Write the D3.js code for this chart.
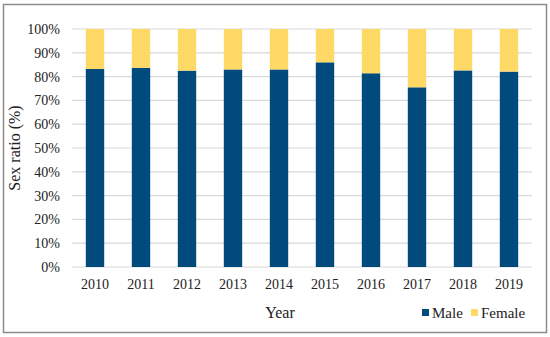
<!DOCTYPE html>
<html>
<head>
<meta charset="utf-8">
<script src="https://cdn.jsdelivr.net/npm/d3@7"></script>
<style>
  body { margin: 0; background: #fff; }
  text { font-family: "Liberation Serif", "Times New Roman", serif; fill: #222; }
</style>
</head>
<body>
<svg id="chart" width="550" height="337"></svg>
<script>
let years = ["2010", "2011", "2012", "2013", "2014", "2015", "2016", "2017", "2018", "2019"];
let male = [83.2, 83.7, 82.5, 83.0, 83.0, 86.0, 81.4, 75.5, 82.6, 82.1];
let female = male.map(m => 100 - m); // shares add up to 100%
let yTicks = [0, 10, 20, 30, 40, 50, 60, 70, 80, 90, 100];

let svg = d3.select("#chart");

// outer frame
svg.append("rect")
  .attr("x", 3.5).attr("y", 4.5)
  .attr("width", 543).attr("height", 328)
  .attr("fill", "none").attr("stroke", "#8c8c8c").attr("stroke-width", 1.5);

let x = d3.scaleBand().domain(years).range([72, 532]).paddingInner(0.6).paddingOuter(0.3);
let y = d3.scaleLinear().domain([0, 100]).range([267, 29]);

// grid
svg.append("g").selectAll("line")
  .data(yTicks)
  .join("line")
  .attr("x1", 72).attr("x2", 532)
  .attr("y1", d => y(d)).attr("y2", d => y(d))
  .attr("stroke", "#d9d9d9").attr("stroke-width", 1.2);

// y labels
svg.append("g").selectAll("text")
  .data(yTicks)
  .join("text")
  .attr("x", 60)
  .attr("y", d => y(d))
  .attr("dy", "0.35em")
  .attr("text-anchor", "end")
  .style("font-size", "14px")
  .text(d => d + "%");

// bars
let stacked = years.map((yr, i) => ({ year: yr, male: male[i], female: female[i] }));
let series = d3.stack().keys(["male", "female"])(stacked);
let colors = { male: "#004b7b", female: "#ffd966" };

svg.append("g").selectAll("g")
  .data(series)
  .join("g")
  .attr("fill", d => colors[d.key])
  .selectAll("rect")
  .data(d => d)
  .join("rect")
  .attr("x", d => x(d.data.year))
  .attr("width", x.bandwidth())
  .attr("y", d => y(d[1]))
  .attr("height", d => y(d[0]) - y(d[1]));

// x labels
svg.append("g").selectAll("text")
  .data(years)
  .join("text")
  .attr("x", d => x(d) + x.bandwidth() / 2)
  .attr("y", 289)
  .attr("text-anchor", "middle")
  .style("font-size", "14px")
  .text(d => d);

// axis titles
svg.append("text")
  .attr("x", 280).attr("y", 318)
  .attr("text-anchor", "middle")
  .style("font-size", "16px")
  .text("Year");

svg.append("text")
  .attr("transform", "translate(20,148) rotate(-90)")
  .attr("text-anchor", "middle")
  .style("font-size", "16px")
  .text("Sex ratio (%)");

// legend
let legend = [{ key: "male", label: "Male", x: 422 }, { key: "female", label: "Female", x: 471 }];
let lg = svg.append("g").selectAll("g")
  .data(legend)
  .join("g")
  .attr("transform", d => "translate(" + d.x + ",309)");
lg.append("rect")
  .attr("width", 7).attr("height", 7)
  .attr("fill", d => colors[d.key]);
lg.append("text")
  .attr("x", 10).attr("y", 8.5)
  .style("font-size", "15px")
  .text(d => d.label);
</script>
</body>
</html>
